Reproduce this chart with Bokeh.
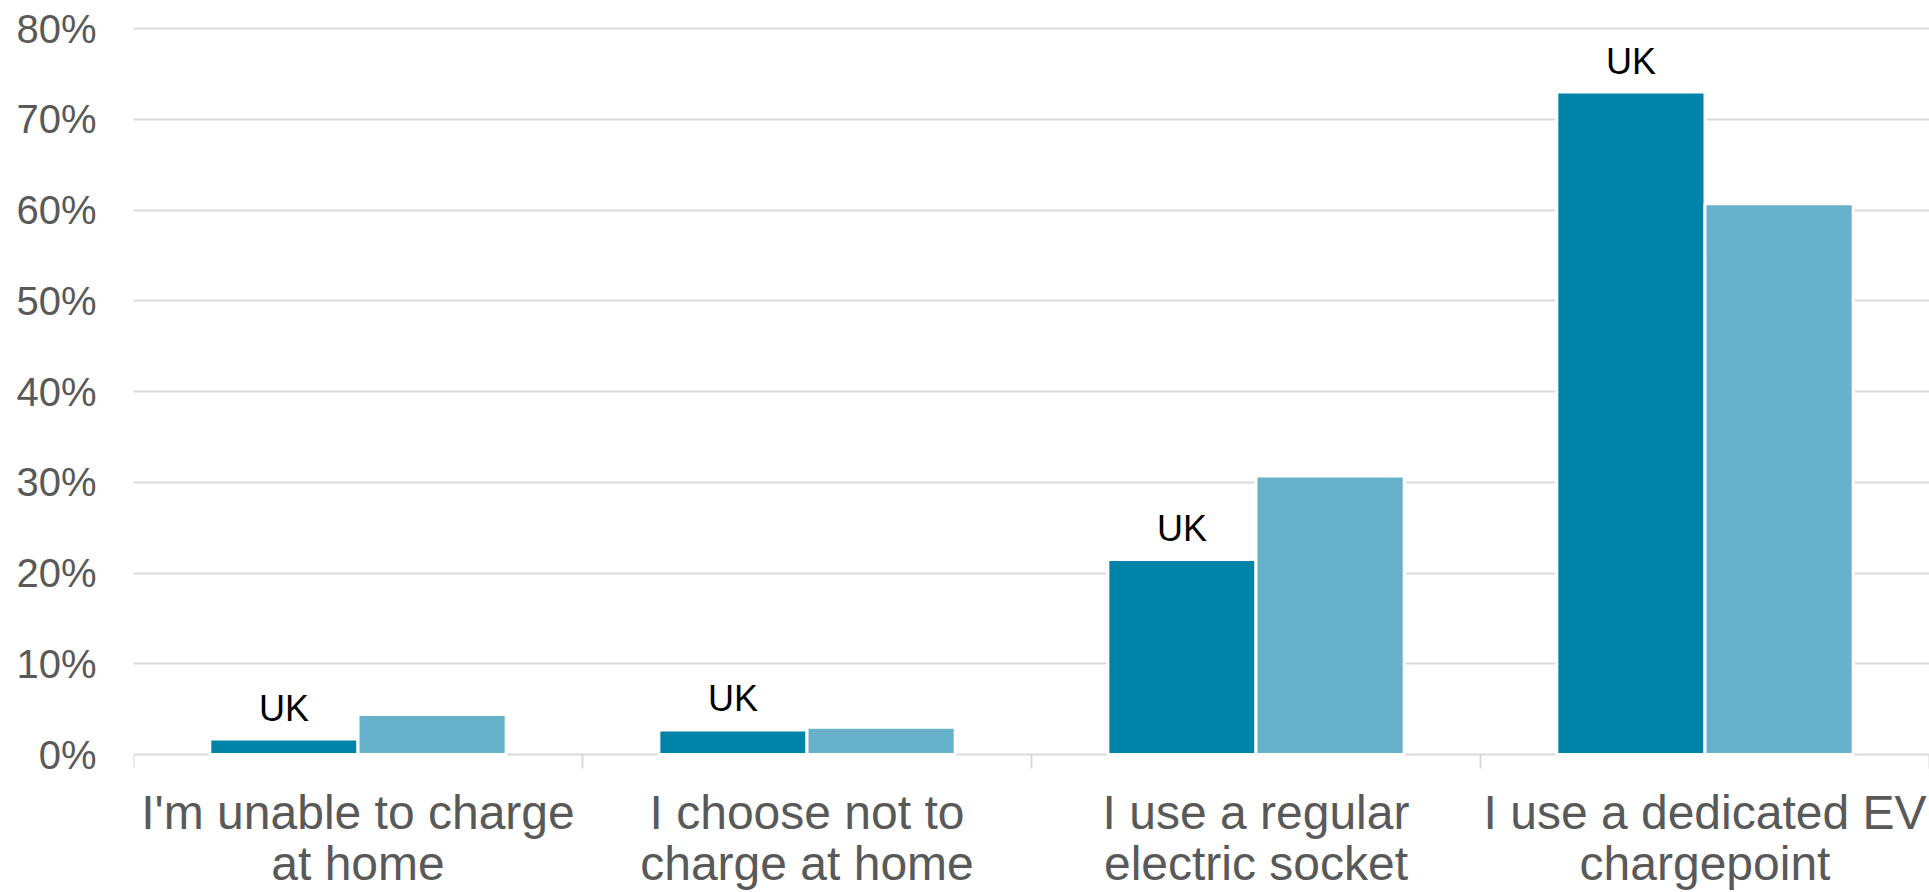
from bokeh.plotting import figure
from bokeh.models import ColumnDataSource, FixedTicker, PrintfTickFormatter, Range1d
from bokeh.transform import dodge
from bokeh.core.properties import value
from bokeh.embed import file_html
from bokeh.resources import INLINE

categories = ["I'm unable to charge\nat home", "I choose not to\ncharge at home",
              "I use a regular\nelectric socket", "I use a dedicated EV\nchargepoint"]
uk_values = [1.7, 2.7, 21.5, 73.0]
other_values = [4.4, 3.0, 30.7, 60.7]
uk_label = "UK"
y_ticks = [0, 10, 20, 30, 40, 50, 60, 70, 80]

FONT = "Liberation Sans"
DARK = "#0083A9"
LIGHT = "#67B2CA"
GRID = "#D9D9D9"

# layout (pixels)
W, H = 1929, 892
TOP_PX, ZERO_PX = 28, 754          # canvas rows of the 80% and 0% lines
BORDER_TOP = 25
PPU = (ZERO_PX - TOP_PX) / y_ticks[-1]
Y_START = -(H - ZERO_PX) / PPU
Y_END = y_ticks[-1] + (TOP_PX - BORDER_TOP) / PPU
TICK_LEN = 14 / PPU

n = len(categories)
xpos = [i + 0.5 for i in range(n)]
src = ColumnDataSource(dict(x=xpos, uk=uk_values, other=other_values,
                            lab=[uk_label] * n, cat=categories, base=[0] * n))
bounds = list(range(n + 1))

p = figure(width=W, height=H, output_backend="svg", toolbar_location=None,
           x_range=Range1d(0, n), y_range=Range1d(Y_START, Y_END),
           min_border_left=133, min_border_right=0, min_border_top=BORDER_TOP,
           min_border_bottom=0)
p.outline_line_color = None
p.background_fill_color = "white"
p.border_fill_color = "white"

# gridlines (0 line doubles as the category axis line)
p.xgrid.grid_line_color = None
p.ygrid.ticker = FixedTicker(ticks=y_ticks)
p.ygrid.grid_line_color = GRID
p.ygrid.grid_line_width = 2

# tick marks between categories
p.segment(x0=bounds, y0=[0] * len(bounds), x1=bounds, y1=[-TICK_LEN] * len(bounds),
          line_color=GRID, line_width=2)

bw = 0.33
p.vbar(x=dodge("x", -bw / 2, range=p.x_range), top="uk", width=bw, bottom=0, source=src,
       fill_color=DARK, line_color="white", line_width=3)
p.vbar(x=dodge("x", bw / 2, range=p.x_range), top="other", width=bw, bottom=0, source=src,
       fill_color=LIGHT, line_color="white", line_width=3)
p.text(x=dodge("x", -bw / 2, range=p.x_range), y="uk", text="lab", source=src,
       text_font=value(FONT), text_font_size="36px", text_color="black",
       text_align="center", text_baseline="alphabetic", y_offset=-31)

# category labels
p.text(x="x", y="base", text="cat", source=src, y_offset=31,
       text_font=value(FONT), text_font_size="48px", text_color="#595959",
       text_align="center", text_baseline="top", text_line_height=0.98)

# y axis
p.yaxis.ticker = FixedTicker(ticks=y_ticks)
p.yaxis.formatter = PrintfTickFormatter(format="%d%%")
p.yaxis.axis_line_color = None
p.yaxis.major_tick_line_color = None
p.yaxis.minor_tick_line_color = None
p.yaxis.major_label_text_font = FONT
p.yaxis.major_label_text_font_size = "40px"
p.yaxis.major_label_text_color = "#595959"
p.yaxis.major_label_standoff = 31

p.xaxis.visible = False

open("out.html", "w").write(file_html(p, INLINE))
